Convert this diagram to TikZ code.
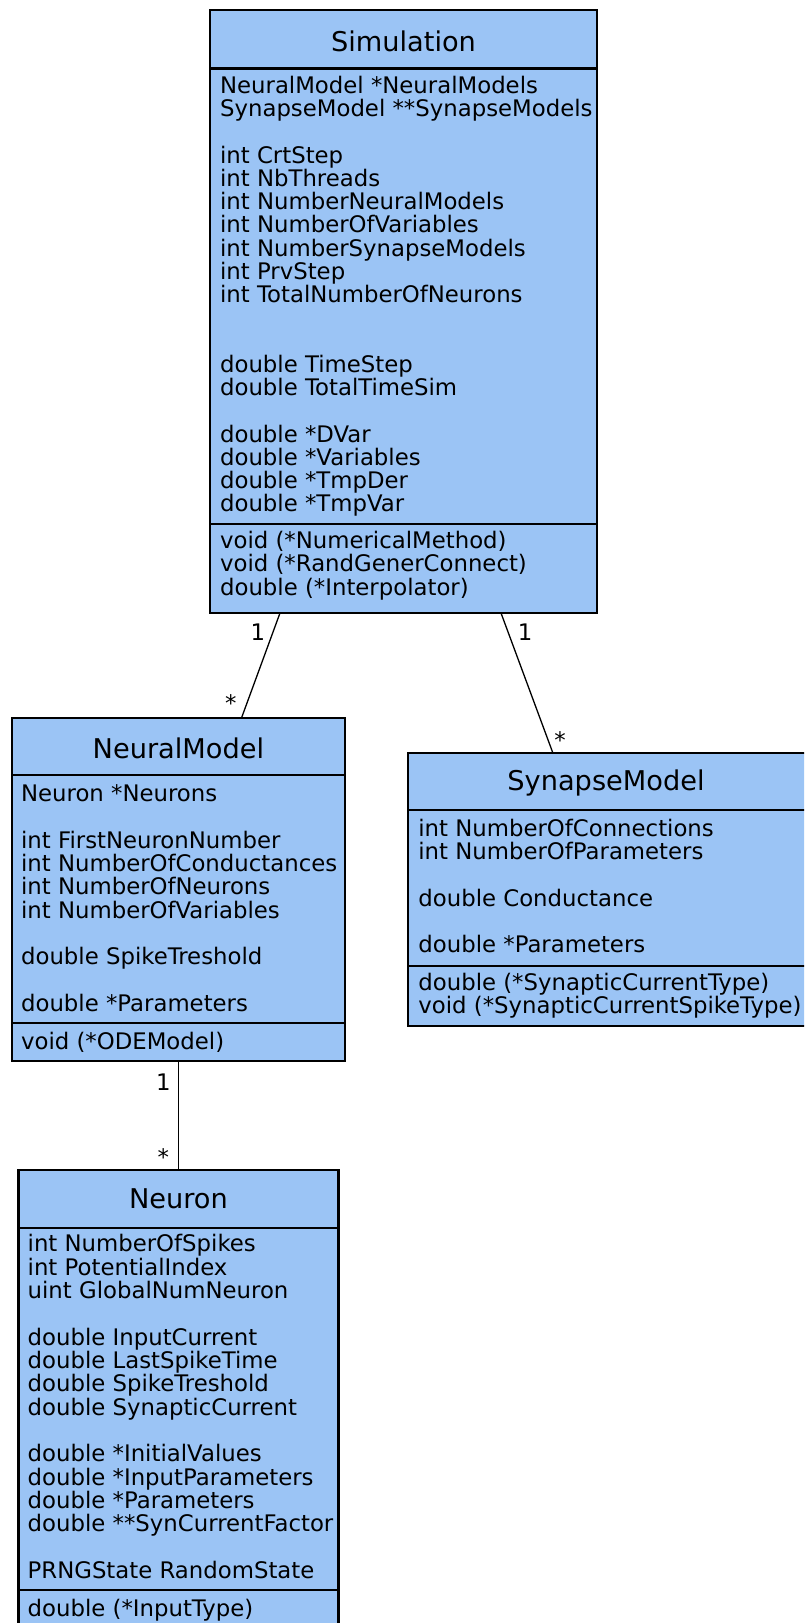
\documentclass[tikz,border=0pt]{standalone}
\usepackage{fontspec}
\setmainfont{DejaVu Sans}
\definecolor{umlfill}{RGB}{155,196,245}
\tikzset{
  classbox/.style={draw=black, fill=umlfill, line width=2.2pt, rectangle, inner sep=0pt, outer sep=0pt},
  divider/.style={line width=2.2pt},
  rowtext/.style={inner sep=0pt, anchor=base west, font=\fontsize{22.8}{26}\selectfont},
  titletext/.style={inner sep=0pt, anchor=base, font=\fontsize{27.2}{31}\selectfont},
  assoc/.style={line width=1.3pt},
  mult/.style={inner sep=0pt, font=\fontsize{22.8}{26}\selectfont},
}
\newcommand\umlrows[5]{%
  \foreach \k/\t in {#5} {\node[rowtext] (#1-\k) at (#2, #3+#4*\k) {\t};}}
\begin{document}
\begin{tikzpicture}[x=1pt, y=-1pt]
\useasboundingbox (0,0) rectangle (804,1623);
\clip (0,0) rectangle (804,1623);
% class boxes
\node[classbox, minimum width=387pt, minimum height=603pt] (sim) at (403.5,311.5) {};
\node[classbox, minimum width=333pt, minimum height=343pt] (nm) at (178.4,889.2) {};
\node[classbox, minimum width=397.7pt, minimum height=272.7pt] (syn) at (607.15,889.65) {};
\node[classbox, minimum width=320pt, minimum height=470pt] (nr) at (178.4,1405) {};
% dividers
\draw[divider] ([yshift=-58.5pt]sim.north west) -- ([yshift=-58.5pt]sim.north east);
\draw[divider] ([yshift=-513.7pt]sim.north west) -- ([yshift=-513.7pt]sim.north east);
\draw[divider] ([yshift=-57.3pt]nm.north west) -- ([yshift=-57.3pt]nm.north east);
\draw[divider] ([yshift=-305pt]nm.north west) -- ([yshift=-305pt]nm.north east);
\draw[divider] ([yshift=-56.7pt]syn.north west) -- ([yshift=-56.7pt]syn.north east);
\draw[divider] ([yshift=-212.4pt]syn.north west) -- ([yshift=-212.4pt]syn.north east);
\draw[divider] ([yshift=-57.7pt]nr.north west) -- ([yshift=-57.7pt]nr.north east);
\draw[divider] ([yshift=-420pt]nr.north west) -- ([yshift=-420pt]nr.north east);
% titles
\node[titletext] (sim-title) at (403.5,51.7) {Simulation};
\node[titletext] (nm-title) at (178.4,758.3) {NeuralModel};
\node[titletext] (syn-title) at (606,790) {SynapseModel};
\node[titletext] (nr-title) at (178.4,1208.3) {Neuron};
% Simulation
\umlrows{sima}{219.9}{93.3}{23.25}{0/{NeuralModel *NeuralModels},1/{SynapseModel **SynapseModels},3/{int CrtStep},4/{int NbThreads},5/{int NumberNeuralModels},6/{int NumberOfVariables},7/{int NumberSynapseModels},8/{int PrvStep},9/{int TotalNumberOfNeurons},12/{double TimeStep},13/{double TotalTimeSim},15/{double *DVar},16/{double *Variables},17/{double *TmpDer},18/{double *TmpVar}}
\umlrows{simm}{219.9}{548.7}{23.25}{0/{void (*NumericalMethod)},1/{void (*RandGenerConnect)},2/{double (*Interpolator)}}
% NeuralModel
\umlrows{nma}{20.9}{801.7}{23.3}{0/{Neuron *Neurons},2/{int FirstNeuronNumber},3/{int NumberOfConductances},4/{int NumberOfNeurons},5/{int NumberOfVariables},7/{double SpikeTreshold},9/{double *Parameters}}
\umlrows{nmm}{20.9}{1049.3}{23.3}{0/{void (*ODEModel)}}
% SynapseModel
\umlrows{syna}{418.2}{836.7}{23.1}{0/{int NumberOfConnections},1/{int NumberOfParameters},3/{double Conductance},5/{double *Parameters}}
\umlrows{synm}{418.2}{990}{23.3}{0/{double (*SynapticCurrentType)},1/{void (*SynapticCurrentSpikeType)}}
% Neuron
\umlrows{nra}{27.5}{1251.7}{23.33}{0/{int NumberOfSpikes},1/{int PotentialIndex},2/{uint GlobalNumNeuron},4/{double InputCurrent},5/{double LastSpikeTime},6/{double SpikeTreshold},7/{double SynapticCurrent},9/{double *InitialValues},10/{double *InputParameters},11/{double *Parameters},12/{double **SynCurrentFactor},14/{PRNGState RandomState}}
\umlrows{nrm}{27.5}{1616.7}{23.3}{0/{double (*InputType)}}
% associations
\draw[assoc] ([xshift=70pt]sim.south west) -- ([xshift=229.7pt]nm.north west);
\draw[assoc] ([xshift=291pt]sim.south west) -- ([xshift=144.7pt]syn.north west);
\draw[assoc] (nm.south) -- (nr.north);
% multiplicities
\node[mult] (m1a) at (258,632) {1};
\node[mult] (m1b) at (230.7,703.4) {*};
\node[mult] (m2a) at (525,632) {1};
\node[mult] (m2b) at (560,740.4) {*};
\node[mult] (m3a) at (163.3,1081.7) {1};
\node[mult] (m3b) at (163.3,1157.5) {*};
\end{tikzpicture}
\end{document}
